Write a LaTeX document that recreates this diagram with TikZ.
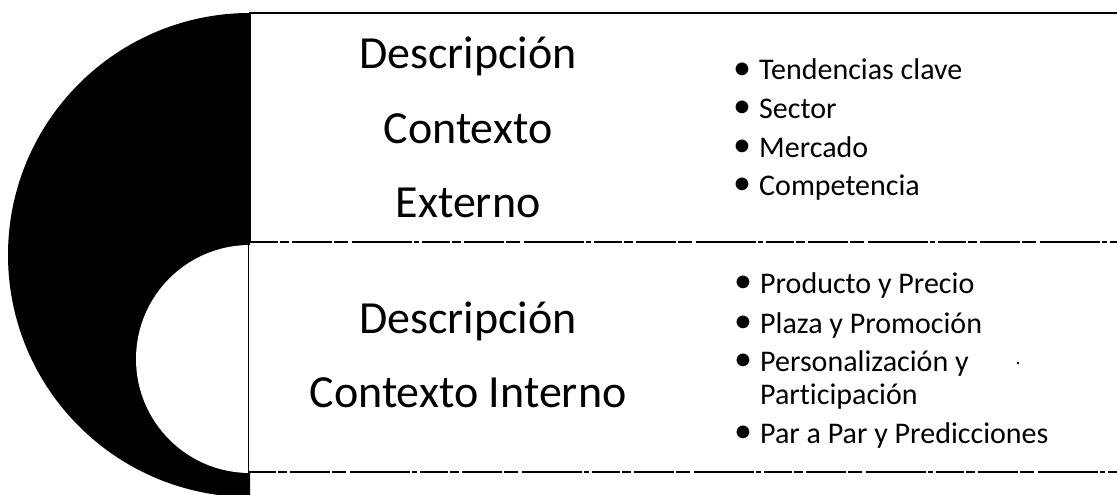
\documentclass[tikz,border=0pt]{standalone}
\usepackage{fontspec}
\setmainfont{Carlito}[Ligatures=NoCommon]
\begin{document}
\begin{tikzpicture}[x=1pt,y=-1pt,
  title/.style={font=\fontsize{46}{54}\selectfont, anchor=base, inner sep=0pt},
  item/.style={font=\fontsize{30}{36}\selectfont, anchor=base west, inner sep=0pt},
  bul/.style={font=\fontsize{36}{40}\selectfont, anchor=center, inner sep=0pt},
  brokenline/.style={line width=1.6pt, dash pattern=on 28pt off 2pt on 9pt off 3pt on 40pt off 2pt on 14pt off 4pt on 60pt off 2pt on 5pt off 3pt}]
\useasboundingbox (0,0) rectangle (1117,495);
\fill[white] (0,0) rectangle (1117,495);
% crescent
\begin{scope}
  \clip (0,0) rectangle (250,495);
  \fill[black] (250,255) circle[radius=242pt];
\end{scope}
\fill[white] (250,359) circle[radius=114pt];
% box borders
\draw[line width=2pt] (249,13) -- (1117,13);
\draw[line width=1.2pt] (250,13) -- (250,242);
\draw[line width=0.8pt] (248,244) -- (248,472);
\draw[brokenline] (250,242) -- (1117,242);
\draw[brokenline] (248,472) -- (1117,472);
% titles
\node[title] (t1) at (468,69) {Descripción};
\node[title] (t2) at (468,143) {Contexto};
\node[title] (t3) at (468,217) {Externo};
\node[title] (t4) at (468,333) {Descripción};
\node[title] (t5) at (468,407) {Contexto Interno};
% top list
\node[bul] (b1) at (742,71) {•};
\node[item] (i1) at (759,80) {Tendencias clave};
\node[bul] (b2) at (742,109) {•};
\node[item] (i2) at (759,118) {Sector};
\node[bul] (b3) at (742,148) {•};
\node[item] (i3) at (759,157) {Mercado};
\node[bul] (b4) at (742,186) {•};
\node[item] (i4) at (759,195) {Competencia};
% bottom list
\node[bul] (b5) at (743,284) {•};
\node[item] (i5) at (760,293) {Producto y Precio};
\node[bul] (b6) at (743,324) {•};
\node[item] (i6) at (760,333) {Plaza y Promoción};
\node[bul] (b7) at (743,362) {•};
\node[item] (i7) at (760,371) {Personalización y};
\node[item] (i8) at (760,404) {Participación};
\node[bul] (b9) at (743,434) {•};
\node[item] (i9) at (760,443) {Par a Par y Predicciones};
% stray dot
\fill[black] (1018,363) circle[radius=1.3pt];
\end{tikzpicture}
\end{document}
